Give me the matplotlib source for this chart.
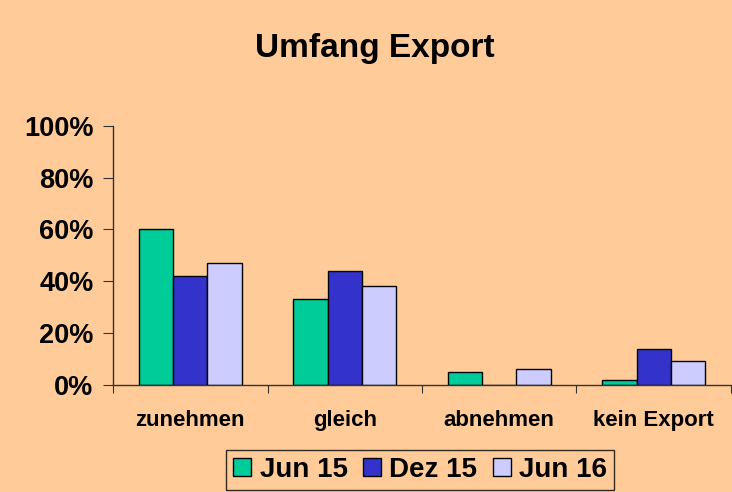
import numpy as np
import matplotlib
matplotlib.use("Agg")
import matplotlib.pyplot as plt
from matplotlib.ticker import FixedLocator, NullFormatter

plt.rcParams["font.family"] = ["Liberation Sans", "DejaVu Sans"]
plt.rcParams["font.weight"] = "bold"

categories = ["zunehmen", "gleich", "abnehmen", "kein Export"]
series_names = ["Jun 15", "Dez 15", "Jun 16"]
jun15 = [60, 33, 5, 2]
dez15 = [42, 44, 0, 14]
jun16 = [47, 38, 6, 9]
colors = ["#00CC99", "#3333CC", "#CCCCFF"]
bg = "#FFCC99"

fig = plt.figure(figsize=(7.32, 4.92), dpi=100, facecolor=bg)
ax = fig.add_axes([0.1544, 0.218, 0.8442, 0.526])
ax.set_facecolor(bg)

x = np.arange(len(categories))
w = 0.222
for i, (vals, name) in enumerate(zip([jun15, dez15, jun16], series_names)):
    ax.bar(x + (i - 1) * w, vals, width=w, color=colors[i], edgecolor="black",
           linewidth=1, label=name)

ax.set_xlim(-0.5, 3.5)
ax.set_ylim(0, 100)
ax.set_yticks(range(0, 101, 20))
ax.set_yticklabels([f"{v}%" for v in range(0, 101, 20)], fontsize=19.5, fontweight="bold")
ax.xaxis.set_major_locator(FixedLocator([-0.5, 0.5, 1.5, 2.5, 3.5]))
ax.xaxis.set_major_formatter(NullFormatter())
ax.set_xticks(x, minor=True)
ax.set_xticklabels(categories, minor=True, fontsize=16, fontweight="bold")
ax.tick_params(axis="x", which="minor", length=0, pad=18)
ax.tick_params(axis="x", which="major", length=6, direction="out", color="#333333")
ax.tick_params(axis="y", length=7, direction="out", color="#333333", pad=7)

for s in ["top", "right"]:
    ax.spines[s].set_visible(False)
for s in ["left", "bottom"]:
    ax.spines[s].set_color("#333333")
    ax.spines[s].set_linewidth(1)

fig.text(0.512, 0.902, "Umfang Export", ha="center", va="center",
         fontsize=24, fontweight="bold")

leg = fig.legend(loc="center", bbox_to_anchor=(0.574, 0.045), ncol=3,
                 frameon=True, fancybox=False, handlelength=0.65,
                 handleheight=0.62, handletextpad=0.3, columnspacing=0.55,
                 borderpad=0.25, borderaxespad=0,
                 prop={"weight": "bold", "size": 20})
leg.get_frame().set_edgecolor("black")
leg.get_frame().set_facecolor(bg)
leg.get_frame().set_linewidth(1)

fig.savefig("out.png", dpi=100, facecolor=bg)
